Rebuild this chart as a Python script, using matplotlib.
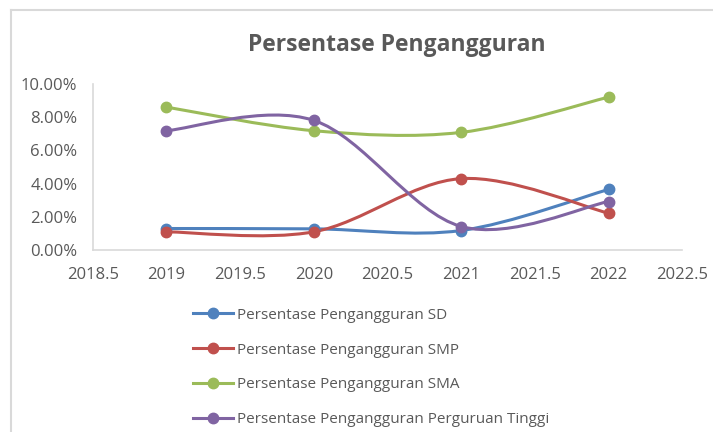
import numpy as np
import matplotlib.pyplot as plt
from matplotlib.lines import Line2D
from matplotlib.path import Path
from matplotlib.patches import PathPatch

plt.rcParams['font.family'] = ['Open Sans', 'DejaVu Sans']

years = [2019, 2020, 2021, 2022]
sd = [1.30, 1.28, 1.18, 3.65]
smp = [1.10, 1.10, 4.30, 2.22]
sma = [8.60, 7.18, 7.08, 9.20]
pt = [7.18, 7.80, 1.42, 2.92]

labels = ["Persentase Pengangguran SD", "Persentase Pengangguran SMP",
          "Persentase Pengangguran SMA", "Persentase Pengangguran Perguruan Tinggi"]
colors = ["#4F81BD", "#C0504D", "#9BBB59", "#8064A2"]
gray = "#595959"


def smooth_path(xs, ys):
    # Excel-like smoothed line: cubic Bezier with Catmull-Rom control points
    pts = np.column_stack([xs, ys]).astype(float)
    n = len(pts)
    verts = [pts[0]]
    codes = [Path.MOVETO]
    for i in range(n - 1):
        p0 = pts[max(i - 1, 0)]
        p1 = pts[i]
        p2 = pts[i + 1]
        p3 = pts[min(i + 2, n - 1)]
        c1 = p1 + (p2 - p0) / 6
        c2 = p2 - (p3 - p1) / 6
        verts += [c1, c2, p2]
        codes += [Path.CURVE4] * 3
    return Path(verts, codes)


fig = plt.figure(figsize=(7.13, 4.32), dpi=100)
ax = fig.add_axes([0.130, 0.421, 0.827, 0.385])

for ys, c in zip([sd, smp, sma, pt], colors):
    ax.add_patch(PathPatch(smooth_path(years, ys), facecolor='none',
                           edgecolor=c, lw=2.2, capstyle='round'))
    ax.plot(years, ys, 'o', color=c, markersize=7.5, zorder=3)

ax.set_xlim(2018.5, 2022.5)
ax.set_ylim(0, 10)
ax.set_xticks([2018.5, 2019, 2019.5, 2020, 2020.5, 2021, 2021.5, 2022, 2022.5])
ax.set_xticklabels(["2018.5", "2019", "2019.5", "2020", "2020.5", "2021",
                    "2021.5", "2022", "2022.5"])
ax.set_yticks(np.arange(0, 10.1, 2))
ax.set_yticklabels([f"{v:.2f}%" for v in np.arange(0, 10.1, 2)])
ax.tick_params(length=0, labelsize=12, colors=gray)
ax.tick_params(axis='x', pad=12)
ax.tick_params(axis='y', pad=11)
for s in ['top', 'right']:
    ax.spines[s].set_visible(False)
for s in ['left', 'bottom']:
    ax.spines[s].set_color('#D9D9D9')
    ax.spines[s].set_linewidth(1.2)

fig.text(0.556, 0.895, "Persentase Pengangguran", ha='center', va='center',
         fontsize=16.5, fontweight='bold', color=gray)

handles = [Line2D([], [], color=c, lw=2.2, marker='o', markersize=7.5) for c in colors]
leg = fig.legend(handles, labels, loc='upper left', bbox_to_anchor=(0.262, 0.302),
                 frameon=False, fontsize=11, labelspacing=1.3, handlelength=2.6,
                 handletextpad=0.3, borderaxespad=0)
for t in leg.get_texts():
    t.set_color(gray)

# chart area border (left and top edges visible)
fig.add_artist(Line2D([0.016, 0.016], [0, 0.977], color='#D9D9D9', lw=1.5))
fig.add_artist(Line2D([0.016, 1.0], [0.977, 0.977], color='#D9D9D9', lw=1.5))

fig.savefig("out.png", dpi=100)
